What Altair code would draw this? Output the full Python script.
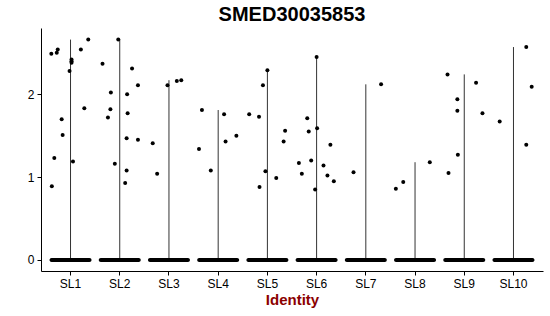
import altair as alt
import pandas as pd

title_text = "SMED30035853"
idents = ["SL1", "SL2", "SL3", "SL4", "SL5", "SL6", "SL7", "SL8", "SL9", "SL10"]

# non-zero expression values per identity
values = {
    "SL1": [2.49, 2.50, 2.54, 2.66, 2.54, 2.42, 2.40, 2.38, 2.28, 1.83, 1.70, 1.51, 1.23, 1.19, 0.89],
    "SL2": [2.66, 2.37, 2.31, 2.11, 2.02, 2.00, 1.82, 1.77, 1.72, 1.47, 1.45, 1.16, 1.08, 0.93],
    "SL3": [2.11, 2.16, 2.17, 1.41, 1.04],
    "SL4": [1.81, 1.76, 1.50, 1.43, 1.34, 1.08],
    "SL5": [2.29, 2.11, 1.76, 1.73, 1.56, 1.43, 1.07, 0.99, 0.88],
    "SL6": [2.45, 1.71, 1.59, 1.55, 1.39, 1.17, 1.20, 1.14, 1.04, 1.02, 0.95, 0.85],
    "SL7": [1.06, 2.12],
    "SL8": [1.18, 0.94, 0.86],
    "SL9": [2.24, 2.14, 1.94, 1.80, 1.77, 1.27, 1.05],
    "SL10": [2.57, 2.09, 1.67, 1.39],
}
# horizontal jitter of each point, as a fraction of the category band
jitter = {
    "SL1": [-0.39, -0.28, -0.26, 0.36, 0.21, 0.02, 0.02, 0.02, -0.02, 0.28, -0.18, -0.16, -0.33, 0.05, -0.38],
    "SL2": [-0.03, -0.35, 0.25, 0.37, -0.18, 0.15, -0.19, 0.16, -0.24, 0.14, 0.37, -0.10, 0.14, 0.11],
    "SL3": [-0.03, 0.16, 0.25, -0.33, -0.24],
    "SL4": [-0.33, 0.12, 0.37, 0.15, -0.39, -0.15],
    "SL5": [0.0, -0.09, -0.37, -0.17, 0.36, 0.33, -0.04, 0.18, -0.16],
    "SL6": [0.0, -0.19, 0.01, -0.16, 0.28, -0.36, -0.11, 0.14, -0.30, 0.22, 0.35, -0.03],
    "SL7": [-0.25, 0.31],
    "SL8": [0.30, -0.24, -0.39],
    "SL9": [-0.34, 0.24, -0.14, -0.14, 0.37, -0.13, -0.32],
    "SL10": [0.26, 0.37, -0.28, 0.26],
}
y_ticks = [0, 1, 2]

rows = []
for g in idents:
    for v, j in zip(values[g], jitter[g]):
        rows.append({"ident": g, "value": v, "jit": j})
pts = pd.DataFrame(rows)
zeros = pd.DataFrame({"ident": idents, "value": [0.0] * len(idents)})

font = "Liberation Sans"
xenc = alt.X(
    "ident:N",
    sort=idents,
    scale=alt.Scale(type="band", paddingInner=0, paddingOuter=0.1),
    axis=alt.Axis(
        title="Identity", labelAngle=0, labelFontSize=12, labelColor="black",
        labelFont=font, titleFont=font, titleFontSize=15, titleFontWeight="bold",
        titleColor="#8B0000", domainColor="black", tickColor="black",
        tickSize=4, labelPadding=3, titlePadding=3, grid=False,
    ),
)
yscale = alt.Scale(domain=[-0.133, 2.80], nice=False, zero=False)
yaxis = alt.Axis(
    values=y_ticks, title="", labelFontSize=12, labelColor="black", labelFont=font,
    domainColor="black", tickColor="black", tickSize=4, labelPadding=3, grid=False,
)

violin = alt.Chart(pts).transform_aggregate(
    maxv="max(value)", groupby=["ident"]
).transform_calculate(base="0").mark_rule(color="#333333", strokeWidth=1).encode(
    x=xenc,
    y=alt.Y("base:Q", scale=yscale, axis=yaxis),
    y2="maxv:Q",
)

zero_band = alt.Chart(zeros).mark_tick(
    size=42, thickness=4, color="black", cornerRadius=2, opacity=1
).encode(
    x=xenc,
    y=alt.Y("value:Q", scale=yscale, axis=yaxis),
)

points = alt.Chart(pts).mark_circle(size=16, color="black", opacity=1).encode(
    x=xenc,
    xOffset=alt.XOffset("jit:Q", scale=alt.Scale(domain=[-0.5, 0.5])),
    y=alt.Y("value:Q", scale=yscale, axis=yaxis),
)

chart = alt.layer(violin, zero_band, points).properties(
    width=502,
    height=243,
    title=alt.TitleParams(title_text, fontSize=20, fontWeight="bold", font=font,
                          anchor="middle", offset=3, color="black"),
    autosize=alt.AutoSizeParams(type="none"),
    padding={"left": 41, "top": 28, "right": 7, "bottom": 45},
).configure_view(stroke=None)

chart.save("out.html", embed_options={"renderer": "svg", "actions": False})
